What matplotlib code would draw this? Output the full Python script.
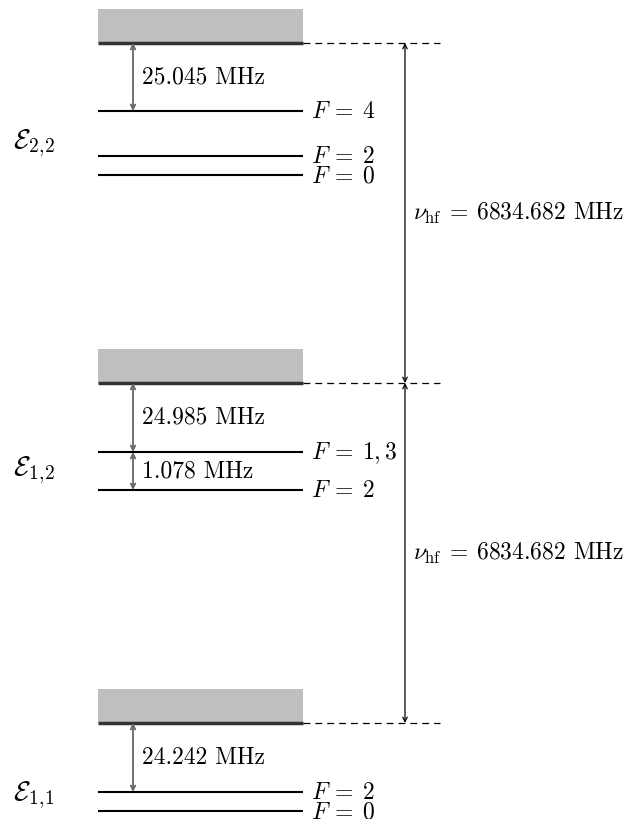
import numpy as np
import matplotlib.pyplot as plt
from matplotlib.patches import Rectangle

plt.rcParams['font.family'] = 'serif'
plt.rcParams['font.serif'] = ['cmr10']
plt.rcParams['mathtext.fontset'] = 'cm'

# manifolds (top to bottom), reference line height in diagram units
manifolds = [r'$\mathcal{E}_{2,\!2}$', r'$\mathcal{E}_{1,\!2}$', r'$\mathcal{E}_{1,\!1}$']
ref_y = [43, 383, 723]
# hyperfine sublevels of each manifold
sub_y = [[111, 156, 175], [452, 490], [792, 811]]
sub_F = [['4', '2', '0'], ['1, 3', '2'], ['2', '0']]
# splitting labels (ref line -> first level, then between levels)
splits = [['25.045 MHz'], ['24.985 MHz', '1.078 MHz'], ['24.242 MHz']]
nu_hf = ['6834.682 MHz', '6834.682 MHz']
label_y = [143, 470, 795]

fig = plt.figure(figsize=(6.36, 8.19), dpi=100)
ax = fig.add_axes([0, 0, 1, 1])
ax.set_xlim(0, 636)
ax.set_ylim(819, 0)
ax.axis('off')

x0, x1 = 98, 303
xa = 133
xr = 405
fs = 17

for i, name in enumerate(manifolds):
    y0 = ref_y[i]
    ax.add_patch(Rectangle((x0, y0 - 34), x1 - x0, 34, facecolor='#bfbfbf', edgecolor='none'))
    ax.plot([x0, x1], [y0, y0], color='#333333', lw=2.5, solid_capstyle='butt')
    ax.plot([x1, 440], [y0, y0], color='black', lw=0.9, ls=(0, (5.5, 4)))
    for y, F in zip(sub_y[i], sub_F[i]):
        ax.plot([x0, x1], [y, y], color='black', lw=1.5, solid_capstyle='butt')
        ax.text(311, y + 1, r'$F\:=\:%s$' % F, fontsize=fs, va='center', ha='left')
    pts = [y0] + sub_y[i][:len(splits[i])]
    for j, lab in enumerate(splits[i]):
        ya, yb = pts[j], pts[j + 1]
        ax.annotate('', xy=(xa, yb), xytext=(xa, ya),
                    arrowprops=dict(arrowstyle='<->', color='#666666', lw=1.3,
                                    mutation_scale=8, shrinkA=0, shrinkB=0))
        ax.text(xa + 9, (ya + yb) / 2, lab, fontsize=fs, va='center', ha='left')
    ax.text(13, label_y[i], name, fontsize=fs + 3, va='center', ha='left')

for k, lab in enumerate(nu_hf):
    ya, yb = ref_y[k], ref_y[k + 1]
    ax.annotate('', xy=(xr, yb), xytext=(xr, ya),
                arrowprops=dict(arrowstyle='<->', color='black', lw=0.9,
                                mutation_scale=8, shrinkA=0, shrinkB=0))
    ax.text(xr + 8, (ya + yb) / 2, r'$\nu_{\mathrm{hf}}\:=\:$' + lab, fontsize=fs,
            va='center', ha='left')

fig.savefig('out.png', dpi=100)
